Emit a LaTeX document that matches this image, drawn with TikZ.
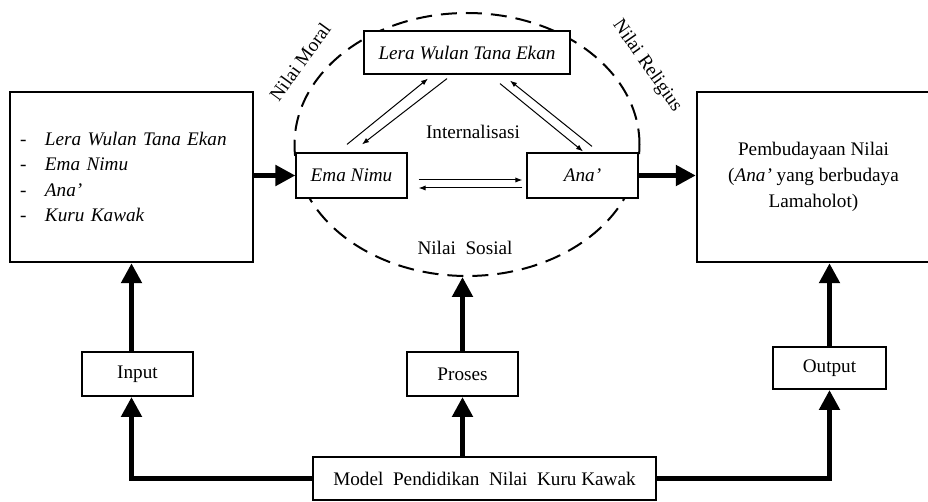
\documentclass[tikz,border=0pt]{standalone}
\usepackage{fontspec}
\setmainfont{Liberation Serif}
\usetikzlibrary{shapes.geometric,arrows.meta,calc}

\begin{document}
\begin{tikzpicture}[x=0.5pt,y=-0.5pt,
   font=\fontsize{9.6}{12.8}\selectfont,
   bigbox/.style={draw,line width=1.2pt,fill=white,inner sep=5pt,minimum height=85pt},
   smallbox/.style={draw,line width=1pt,fill=white,inner sep=0pt,minimum height=22pt},
   valbox/.style={draw,line width=0.6pt,fill=white,inner sep=0pt,minimum height=22.5pt},
   thickarrow/.style={line width=2.5pt,-{Triangle[length=10pt,width=10pt]}},
   thinarrow/.style={line width=0.5pt,-{Latex[length=3.5pt,width=2.6pt]}}]

\useasboundingbox (0,0) rectangle (928,502);
\clip (0,0) rectangle (928,502);

\node[draw,ellipse,line width=1pt,dash pattern=on 8pt off 4.5pt,inner sep=0pt,
   minimum width=172.5pt,minimum height=131.5pt] (nilai) at (467,144.5) {};

\node[bigbox,text width=111.5pt,align=left] (inbox) at (131.5,177)
   {\makebox[12.5pt][l]{-}\textit{Lera Wulan Tana Ekan}\\
    \makebox[12.5pt][l]{-}\textit{Ema Nimu}\\
    \makebox[12.5pt][l]{-}\textit{Ana'}\\
    \makebox[12.5pt][l]{-}\textit{Kuru Kawak}};
\node[bigbox,minimum width=116.5pt,align=center,font=\fontsize{9.6}{13}\selectfont] (outbox) at (813.5,177)
   {Pembudayaan Nilai\\(\textit{Ana'} yang berbudaya\\Lamaholot)};

\node[valbox,minimum width=103pt,minimum height=21.5pt] (ltw) at (467,52.5) {\textit{Lera Wulan Tana Ekan}};
\node[valbox,minimum width=55.5pt] (ema) at (351.5,175.5) {\textit{Ema Nimu}};
\node[valbox,minimum width=55.5pt] (ana) at (582.5,175.5) {\textit{Ana'}};

\node (intern) at (473,132) {Internalisasi};
\node (sosial) at (465,248) {Nilai\ \ Sosial};
\node[rotate=54,inner sep=0pt] (moral) at (300,62) {Nilai Moral};
\node[rotate=-55,inner sep=0pt] (religius) at (647,66) {Nilai Religius};

\node[smallbox,minimum width=55.5pt] (input) at (137.5,374) {Input};
\node[smallbox,minimum width=55.5pt] (proses) at (462.5,374) {Proses};
\node[smallbox,minimum width=56.5pt,minimum height=21pt] (output) at (829.5,368) {Output};
\node[smallbox,minimum width=171.5pt,minimum height=21.5pt] (model) at (484.5,478.5)
   {Model\ \ Pendidikan\ \ Nilai\ \ Kuru Kawak};

\draw[thinarrow] ($(ema.north)+(-4.5,-8)$) -- ($(ltw.south)+(-39,4)$);
\draw[thinarrow] ($(ltw.south)+(-20,4)$) -- ($(ema.north)+(10.5,-8)$);
\draw[thinarrow] ($(ltw.south)+(33,9)$) -- ($(ana.north)+(0.5,-1)$);
\draw[thinarrow] ($(ana.north)+(9.5,-6)$) -- ($(ltw.south)+(43,6)$);
\draw[thinarrow] ($(ema.east)+(11,4.5)$) -- ($(ana.west)+(-4,4.5)$);
\draw[thinarrow] ($(ana.west)+(-4,12.5)$) -- ($(ema.east)+(11,12.5)$);

\draw[thickarrow] (ema.west -| inbox.east) -- (ema.west);
\draw[thickarrow] (ana.east) -- (ana.east -| outbox.west);

\draw[thickarrow] (input.north -| inbox.south) -- (inbox.south);
\draw[thickarrow] (proses.north) -- (proses.north |- nilai.south);
\draw[thickarrow] (output.north) -- (output.north |- outbox.south);

\draw[thickarrow] (model.west) -| (input.south -| inbox.south);
\draw[thickarrow] (model.north -| proses.south) -- (proses.south);
\draw[thickarrow] (model.east) -| (output.south);

\end{tikzpicture}
\end{document}
